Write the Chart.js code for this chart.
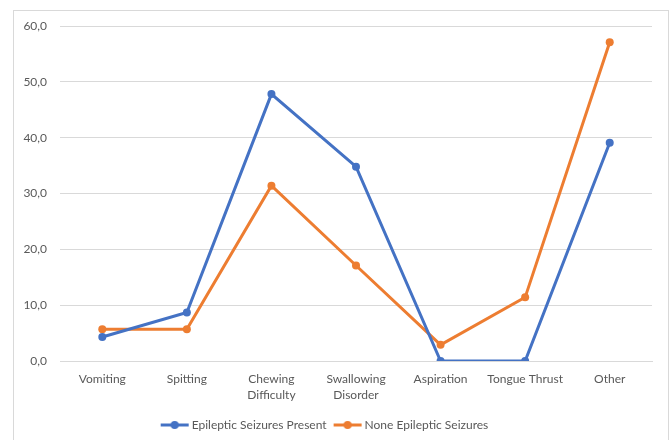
<!DOCTYPE html>
<html>
<head>
<meta charset="utf-8">
<script src="https://cdn.jsdelivr.net/npm/chart.js@4/dist/chart.umd.min.js"></script>
<style>
  html, body { margin: 0; padding: 0; background: #fff; }
  #wrap { position: relative; width: 670px; height: 440px; }
</style>
</head>
<body>
<div id="wrap"><canvas id="c" width="670" height="440"></canvas></div>
<script>
const categories = ['Vomiting', 'Spitting', ['Chewing', 'Difficulty'], ['Swallowing', 'Disorder'], 'Aspiration', 'Tongue Thrust', 'Other'];
const seizuresPresent = [4.3, 8.7, 47.8, 34.8, 0.0, 0.0, 39.1];
const noSeizures = [5.7, 5.7, 31.4, 17.1, 2.9, 11.4, 57.1];
const seriesNames = ['Epileptic Seizures Present', 'None Epileptic Seizures'];
const yTicks = [0, 10, 20, 30, 40, 50, 60];

const BLUE = '#4472C4';
const ORANGE = '#ED7D31';
const TEXT = '#595959';
const GRID = '#d9d9d9';
const FONT = 'Lato, "Open Sans", sans-serif';

// Legend marker: a short line with a dot in the middle
function legendMarker(color) {
  const c = document.createElement('canvas');
  c.width = 30; c.height = 10;
  const g = c.getContext('2d');
  g.strokeStyle = color; g.lineWidth = 3;
  g.beginPath(); g.moveTo(1, 5); g.lineTo(29, 5); g.stroke();
  g.fillStyle = color;
  g.beginPath(); g.arc(15, 5, 4, 0, Math.PI * 2); g.fill();
  return c;
}

// Light frame around the chart
const framePlugin = {
  id: 'frame',
  beforeDraw(chart) {
    const ctx = chart.ctx;
    ctx.save();
    ctx.strokeStyle = '#d9d9d9';
    ctx.lineWidth = 1;
    ctx.strokeRect(13.5, 10.5, 655, 440);
    ctx.restore();
  }
};

new Chart(document.getElementById('c'), {
  type: 'line',
  data: {
    labels: categories,
    datasets: [
      {
        label: seriesNames[0], data: seizuresPresent,
        borderColor: BLUE, backgroundColor: BLUE,
        borderWidth: 3, pointRadius: 4, pointBackgroundColor: BLUE, pointBorderWidth: 0,
        pointStyle: 'circle', tension: 0
      },
      {
        label: seriesNames[1], data: noSeizures,
        borderColor: ORANGE, backgroundColor: ORANGE,
        borderWidth: 3, pointRadius: 4, pointBackgroundColor: ORANGE, pointBorderWidth: 0,
        pointStyle: 'circle', tension: 0
      }
    ]
  },
  options: {
    responsive: false,
    animation: false,
    layout: { padding: { left: 0, right: 18, top: 26, bottom: -1 } },
    plugins: {
      tooltip: { enabled: false },
      legend: {
        position: 'bottom',
        labels: {
          color: TEXT,
          font: { family: FONT, size: 12 },
          usePointStyle: true,
          pointStyleWidth: 22,
          padding: 10,
          generateLabels(chart) {
            return chart.data.datasets.map((ds, i) => ({
              text: ds.label,
              fillStyle: ds.borderColor,
              strokeStyle: ds.borderColor,
              lineWidth: 0,
              pointStyle: legendMarker(ds.borderColor),
              fontColor: TEXT,
              datasetIndex: i,
              hidden: false
            }));
          }
        }
      }
    },
    scales: {
      x: {
        offset: true,
        grid: { display: false, drawTicks: false },
        border: { display: true, color: GRID, width: 1 },
        ticks: {
          color: TEXT, font: { family: FONT, size: 12, lineHeight: 1.35 },
          maxRotation: 0, autoSkip: false, padding: 10
        },
        afterFit(s) { s.height = 48; }
      },
      y: {
        min: 0, max: 60,
        afterBuildTicks(s) { s.ticks = yTicks.map(v => ({ value: v })); },
        grid: { color: GRID, lineWidth: 1, drawTicks: false },
        border: { display: false },
        ticks: {
          color: TEXT, font: { family: FONT, size: 12 }, padding: 13,
          callback: v => v.toFixed(1).replace('.', ',')
        },
        afterFit(s) { s.width = 60; }
      }
    }
  },
  plugins: [framePlugin]
});
</script>
</body>
</html>
